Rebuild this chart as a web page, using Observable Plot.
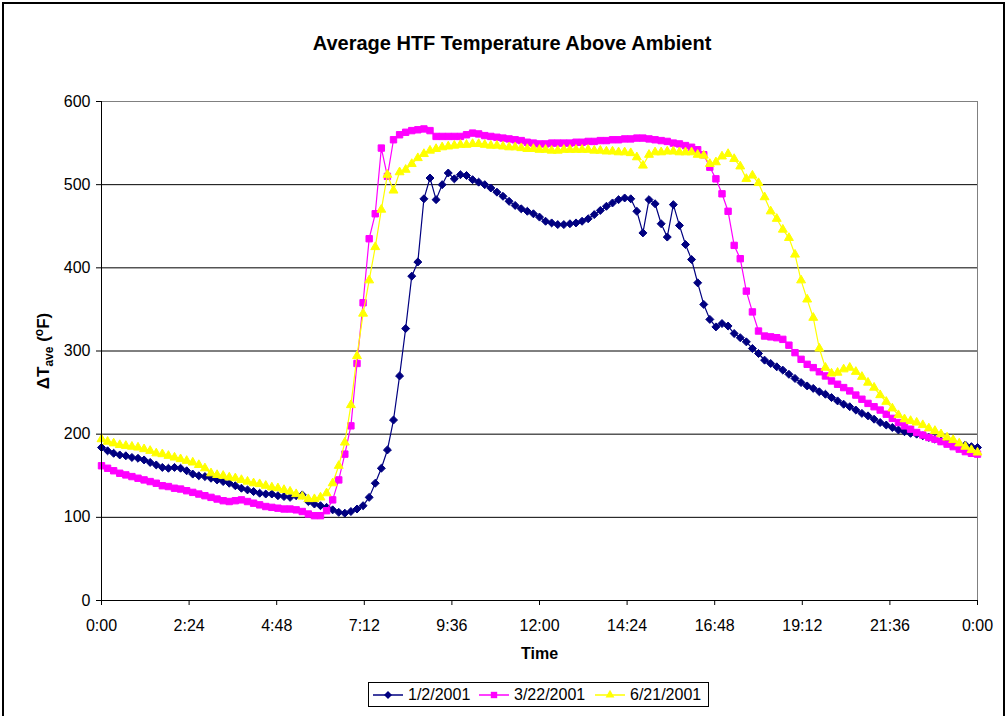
<!DOCTYPE html>
<html>
<head>
<meta charset="utf-8">
<script src="https://cdn.jsdelivr.net/npm/d3@7"></script>
<script src="https://cdn.jsdelivr.net/npm/@observablehq/plot@0.6"></script>
<style>
  html, body { margin: 0; padding: 0; background: #fff; overflow: hidden; }
  #page { position: relative; width: 1007px; height: 716px; font-family: "Liberation Sans", Arial, sans-serif; color: #000; }
  #frame { position: absolute; left: 2px; top: 2px; width: 999px; height: 760px; border: 2px solid #000; pointer-events: none; }
  #title { height: 70px; box-sizing: border-box; padding-top: 33px; width: 1024px; text-align: center; font-weight: bold; font-size: 20px; line-height: 20px; }
  #chart svg { display: block; }
  #legendRow { position: relative; height: 46px; }
  #legend { position: absolute; left: 368px; top: 12px; width: 339px; height: 23px; border: 1px solid #000; background: #fff; }
  .item { position: absolute; top: 0; height: 23px; display: flex; align-items: center; font-size: 16px; white-space: nowrap; }
  .item svg { display: block; margin-right: 5px; }
</style>
</head>
<body>
<div id="page">
  <div id="title">Average HTF Temperature Above Ambient</div>
  <div id="chart"></div>
  <div id="legendRow"><div id="legend"></div></div>
  <div id="frame"></div>
</div>
<script>
// ---- data (sampled every 10 minutes from 0:00 to 24:00) ----
const sampleStepMinutes = 10;
const seriesNames = ["1/2/2001", "3/22/2001", "6/21/2001"];

const jan2 = [
  184,180,177,175,174,172,171,169,166,163,
  160,159,160,159,156,152,150,149,147,145,
  143,141,138,135,133,131,129,128,128,126,
  125,124,126,127,119,116,114,112,109,106,
  105,107,110,114,124,141,159,181,217,270,
  327,390,407,483,508,482,500,514,507,512,
  511,506,503,500,496,491,486,480,475,471,
  468,465,461,456,454,452,452,453,454,456,
  459,464,469,474,478,482,484,483,468,442,
  482,477,453,437,476,451,428,410,382,356,
  338,329,333,330,321,316,311,303,297,289,
  285,281,277,272,267,262,258,255,251,248,
  244,240,236,233,229,225,222,218,214,211,
  208,205,203,201,200,198,196,194,192,191,
  189,188,187,185,184
];

const mar22 = [
  162,159,156,153,151,149,147,145,143,141,
  138,137,135,134,132,130,128,126,124,122,
  120,119,120,121,119,117,115,113,112,111,
  110,110,109,107,104,102,102,108,121,145,
  176,210,285,358,435,465,544,510,554,560,
  563,565,566,567,565,558,558,558,558,558,
  560,562,561,559,558,557,556,555,554,553,
  551,550,549,549,550,550,550,550,551,551,
  552,552,553,553,554,554,555,555,556,556,
  555,554,553,552,550,549,547,545,542,536,
  521,507,489,468,427,411,372,347,324,318,
  317,316,314,307,298,290,284,280,275,270,
  264,260,256,252,247,242,237,233,229,224,
  219,214,210,206,202,199,196,194,191,188,
  185,182,179,177,176
];

const jun21 = [
  194,191,189,187,186,185,184,182,180,177,
  176,174,172,170,168,166,163,159,153,151,
  150,148,147,145,143,141,140,138,136,135,
  133,131,128,125,122,122,124,129,141,162,
  190,235,294,345,385,425,470,512,493,515,
  518,525,532,537,541,543,545,546,547,548,
  548,549,549,548,547,547,546,545,545,544,
  543,543,542,542,541,541,542,542,542,542,
  542,541,541,540,540,539,539,538,533,523,
  536,539,539,540,540,539,539,539,536,535,
  525,527,534,537,531,522,507,511,502,485,
  468,459,446,436,416,385,362,340,303,280,
  273,274,278,280,275,269,262,256,247,239,
  231,223,218,216,214,211,207,204,200,196,
  193,189,185,181,178
];

const xTicks = [0, 2.4, 4.8, 7.2, 9.6, 12, 14.4, 16.8, 19.2, 21.6, 24];
const xTickLabels = ["0:00","2:24","4:48","7:12","9:36","12:00","14:24","16:48","19:12","21:36","0:00"];
const yTicks = [0, 100, 200, 300, 400, 500, 600];
const gridValues = [100, 200, 300, 400, 500];

// ---- styling ----
const seriesStyle = [
  {color: "#000080", symbol: "diamond2", r: 3.6},
  {color: "#FF00FF", symbol: "square", r: 3.6},
  {color: "#FFFF00", symbol: "triangle", r: 3.3}
];
const seriesValues = [jan2, mar22, jun21];

const toRows = (values, name) => values.map((v, i) => ({t: i * sampleStepMinutes / 60, v, series: name}));

const seriesMarks = seriesValues.flatMap((vals, k) => {
  const rows = toRows(vals, seriesNames[k]);
  const s = seriesStyle[k];
  return [
    Plot.line(rows, {x: "t", y: "v", stroke: s.color, strokeWidth: 1.2}),
    Plot.dot(rows, {x: "t", y: "v", symbol: s.symbol, r: s.r, fill: s.color, stroke: s.color, strokeWidth: 1})
  ];
});

const chart = Plot.plot({
  width: 1007,
  height: 600,
  marginTop: 31,
  marginBottom: 70,
  marginLeft: 101,
  marginRight: 30,
  style: {fontFamily: '"Liberation Sans", Arial, sans-serif', fontSize: "16px", background: "transparent", color: "#000"},
  x: {domain: [0, 24]},
  y: {domain: [0, 600]},
  marks: [
    Plot.ruleY(gridValues, {stroke: "#000", strokeWidth: 1}),
    Plot.ruleY([600], {stroke: "#808080", strokeWidth: 1}),
    Plot.ruleX([24], {stroke: "#808080", strokeWidth: 1}),
    ...seriesMarks,
    Plot.ruleX([0], {stroke: "#000", strokeWidth: 1}),
    Plot.ruleY([0], {stroke: "#000", strokeWidth: 1}),
    Plot.axisY({ticks: yTicks, tickSize: 5, tickPadding: 6, label: null, tickFormat: d => String(d)}),
    Plot.axisX({ticks: xTicks, tickSize: 5, tickPadding: 14, label: null, tickFormat: d => xTickLabels[xTicks.indexOf(d)]}),
    Plot.text(["Time"], {frameAnchor: "bottom", dy: 58, fontWeight: "bold", fontSize: 16})
  ]
});

document.getElementById("chart").appendChild(chart);

// y-axis title with subscript / superscript
const svg = d3.select(chart);
const yt = svg.append("text")
  .attr("transform", "translate(49,281) rotate(-90)")
  .attr("text-anchor", "middle")
  .attr("font-weight", "bold")
  .attr("font-size", 17)
  .attr("fill", "#000");
yt.append("tspan").text("ΔT");
yt.append("tspan").attr("font-size", 12).attr("dy", 4).text("ave");
yt.append("tspan").attr("dy", -4).text(" (");
yt.append("tspan").attr("font-size", 12).attr("dy", -6).text("o");
yt.append("tspan").attr("dy", 6).text("F)");

// legend
const legend = d3.select("#legend");
const itemLefts = [4, 110, 226];
seriesNames.forEach((name, k) => {
  const s = seriesStyle[k];
  const item = legend.append("div").attr("class", "item").style("left", itemLefts[k] + "px");
  const sw = item.append("svg").attr("width", 30).attr("height", 14);
  sw.append("line").attr("x1", 0).attr("x2", 30).attr("y1", 7).attr("y2", 7).attr("stroke", s.color).attr("stroke-width", 1.5);
  const sym = {diamond2: d3.symbolDiamond2, square: d3.symbolSquare, triangle: d3.symbolTriangle}[s.symbol];
  sw.append("path").attr("transform", "translate(15,7)")
    .attr("d", d3.symbol(sym, Math.PI * s.r * s.r)()).attr("fill", s.color);
  item.append("span").text(name);
});
</script>
</body>
</html>
